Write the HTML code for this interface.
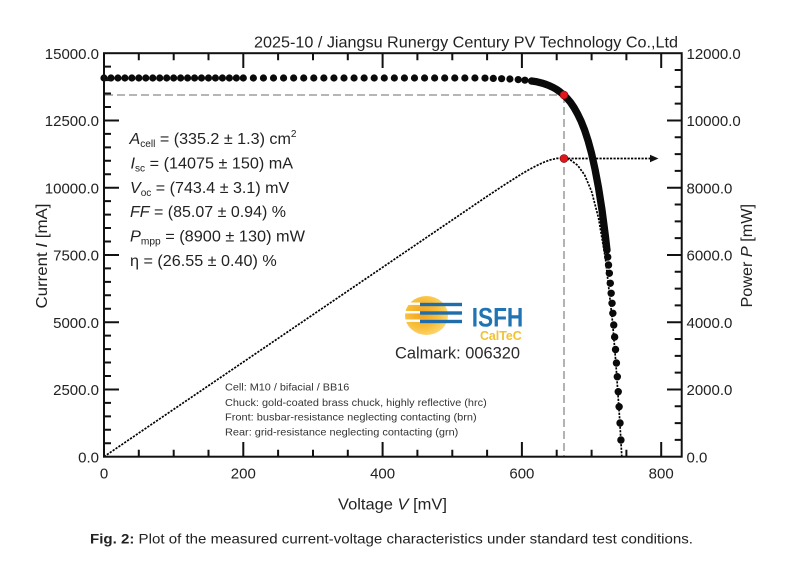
<!DOCTYPE html>
<html>
<head>
<meta charset="utf-8">
<style>
  html, body { margin: 0; padding: 0; background: #ffffff; }
  svg { display: block; font-family: "Liberation Sans", "DejaVu Sans", sans-serif; }
</style>
</head>
<body>
<svg width="800" height="575" viewBox="0 0 800 575" xmlns="http://www.w3.org/2000/svg">
  <defs>
    <radialGradient id="sun" cx="40%" cy="45%" r="60%">
      <stop offset="0" stop-color="#f4a21f"/>
      <stop offset="0.6" stop-color="#f8be3a"/>
      <stop offset="1" stop-color="#fcd76e"/>
    </radialGradient>
  </defs>
  <rect x="0" y="0" width="800" height="575" fill="#ffffff"/>

  <!-- Title -->
  <text x="254" y="47.3" font-size="16" fill="#222" textLength="424" lengthAdjust="spacingAndGlyphs">2025-10 / Jiangsu Runergy Century PV Technology Co.,Ltd</text>

  <!-- dashed guides -->
  <g stroke="#8a8a8a" stroke-width="1.3" stroke-dasharray="8 4" fill="none">
    <line x1="105" y1="95" x2="564" y2="95"/>
    <line x1="564" y1="95" x2="564" y2="456"/>
  </g>

  <!-- Power curve (dotted) -->
  <polyline fill="none" stroke="#000" stroke-width="1.7" stroke-dasharray="2.2 1.3"
    points="104,456.7 487.1,196.3 504.5,184.8 521.9,173.8 528.9,169.7 535.8,166.0 542.8,162.7 549.8,160.0 556.7,158.4 563.7,158.2 570.7,160.2 577.6,165.3 584.6,174.9 591.6,191.5 598.5,217.9 605.5,258.9 612.5,321.4 615.9,363.6 619.4,415.2 620.8,438.9 621.8,456.7"/>

  <!-- arrow -->
  <line x1="568" y1="158.5" x2="651" y2="158.5" stroke="#000" stroke-width="1.7" stroke-dasharray="2.2 1.3"/>
  <polygon points="650,154.8 658.5,158.5 650,162.2" fill="#111"/>

  <!-- IV curve dots -->
  <g fill="#0a0a0a">
    <circle cx="104" cy="78" r="3.6"/><circle cx="110.97" cy="78" r="3.6"/><circle cx="117.93" cy="78" r="3.6"/><circle cx="124.9" cy="78" r="3.6"/><circle cx="131.86" cy="78" r="3.6"/><circle cx="138.83" cy="78" r="3.6"/><circle cx="145.79" cy="78" r="3.6"/><circle cx="152.76" cy="78" r="3.6"/><circle cx="159.72" cy="78" r="3.6"/><circle cx="166.69" cy="78" r="3.6"/><circle cx="173.65" cy="78" r="3.6"/><circle cx="180.62" cy="78" r="3.6"/><circle cx="187.58" cy="78" r="3.6"/><circle cx="194.55" cy="78" r="3.6"/><circle cx="201.51" cy="78" r="3.6"/><circle cx="208.48" cy="78" r="3.6"/><circle cx="215.44" cy="78" r="3.6"/><circle cx="222.41" cy="78" r="3.6"/><circle cx="229.37" cy="78" r="3.6"/><circle cx="236.34" cy="78" r="3.6"/><circle cx="243.3" cy="78" r="3.6"/>
    <circle cx="253.37" cy="78" r="3.6"/><circle cx="263.44" cy="78" r="3.6"/><circle cx="273.51" cy="78" r="3.6"/><circle cx="283.58" cy="78" r="3.6"/><circle cx="293.65" cy="78" r="3.6"/><circle cx="303.72" cy="78" r="3.6"/><circle cx="313.79" cy="78" r="3.6"/><circle cx="323.86" cy="78" r="3.6"/><circle cx="333.93" cy="78" r="3.6"/><circle cx="344" cy="78" r="3.6"/><circle cx="354.07" cy="78" r="3.6"/><circle cx="364.14" cy="78" r="3.6"/><circle cx="374.21" cy="78" r="3.6"/><circle cx="384.28" cy="78" r="3.6"/><circle cx="394.35" cy="78" r="3.6"/><circle cx="404.42" cy="78" r="3.6"/><circle cx="414.49" cy="78" r="3.6"/><circle cx="424.56" cy="78" r="3.6"/><circle cx="434.63" cy="78" r="3.6"/><circle cx="444.7" cy="78" r="3.6"/><circle cx="454.77" cy="78" r="3.6"/><circle cx="464.84" cy="78" r="3.6"/><circle cx="474.91" cy="78" r="3.6"/><circle cx="484.98" cy="78.1" r="3.6"/>
    <circle cx="493.3" cy="78.4" r="3.6"/><circle cx="501.6" cy="78.7" r="3.6"/><circle cx="509.9" cy="79.0" r="3.6"/><circle cx="518.2" cy="79.6" r="3.6"/><circle cx="524.9" cy="80.2" r="3.6"/><circle cx="531.6" cy="81.0" r="3.6"/>
    <!-- steep region -->
    <circle cx="606.96" cy="250" r="3.7"/><circle cx="607.71" cy="257" r="3.7"/><circle cx="608.53" cy="265" r="3.7"/><circle cx="609.34" cy="273.3" r="3.7"/><circle cx="610.28" cy="283.3" r="3.7"/><circle cx="611.17" cy="293.3" r="3.7"/><circle cx="612.03" cy="303.3" r="3.7"/><circle cx="612.84" cy="313.3" r="3.7"/><circle cx="613.75" cy="325" r="3.7"/><circle cx="614.64" cy="337" r="3.7"/><circle cx="615.53" cy="349.5" r="3.7"/><circle cx="616.44" cy="363" r="3.7"/><circle cx="617.32" cy="376.7" r="3.7"/><circle cx="618.24" cy="391.7" r="3.7"/><circle cx="619.12" cy="406.7" r="3.7"/><circle cx="620.03" cy="423" r="3.7"/><circle cx="620.93" cy="440" r="3.7"/>
  </g>
  <polyline fill="none" stroke="#0a0a0a" stroke-width="7.3" stroke-linecap="round" stroke-linejoin="round"
    points="531.6,81.0 535.8,81.6 542.8,83.3 546.3,84.5 549.8,85.9 553.2,87.5 556.7,89.5 560.2,92.0 563.7,94.9 567.2,98.4 570.7,102.6 574.1,107.7 577.6,113.9 581.1,121.2 584.6,130.0 588.1,140.7 591.6,153.6 595.0,169.1 598.5,187.6 602.0,210.0 605.5,237.0 606.96,250"/>

  <!-- MPP red dots -->
  <circle cx="564" cy="95" r="4" fill="#e0161c" stroke="#7a0000" stroke-width="0.6"/>
  <circle cx="564" cy="158.5" r="4" fill="#e0161c" stroke="#7a0000" stroke-width="0.6"/>

  <!-- Axes frame -->
  <rect x="104" y="53.2" width="577.7" height="403.5" fill="none" stroke="#111" stroke-width="2"/>

  <!-- Ticks -->
  <g stroke="#111" stroke-width="2" fill="none">
    <path d="M138.8,456.7V449.7 M173.7,456.7V449.7 M208.5,456.7V449.7 M243.3,456.7V442 M278.1,456.7V449.7 M313,456.7V449.7 M347.8,456.7V449.7 M382.6,456.7V442 M417.4,456.7V449.7 M452.3,456.7V449.7 M487.1,456.7V449.7 M521.9,456.7V442 M556.7,456.7V449.7 M591.6,456.7V449.7 M626.4,456.7V449.7 M661.2,456.7V442"/>
    <path d="M138.8,53.2V60.2 M173.7,53.2V60.2 M208.5,53.2V60.2 M243.3,53.2V68 M278.1,53.2V60.2 M313,53.2V60.2 M347.8,53.2V60.2 M382.6,53.2V68 M417.4,53.2V60.2 M452.3,53.2V60.2 M487.1,53.2V60.2 M521.9,53.2V68 M556.7,53.2V60.2 M591.6,53.2V60.2 M626.4,53.2V60.2 M661.2,53.2V68"/>
    <path d="M104,443.25H111 M104,429.8H111 M104,416.35H111 M104,402.9H111 M104,389.45H119 M104,376H111 M104,362.55H111 M104,349.1H111 M104,335.65H111 M104,322.2H119 M104,308.75H111 M104,295.3H111 M104,281.85H111 M104,268.4H111 M104,254.95H119 M104,241.5H111 M104,228.05H111 M104,214.6H111 M104,201.15H111 M104,187.7H119 M104,174.25H111 M104,160.8H111 M104,147.35H111 M104,133.9H111 M104,120.45H119 M104,107H111 M104,93.55H111 M104,80.1H111 M104,66.65H111"/>
    <path d="M681.7,439.89H674.7 M681.7,423.08H674.7 M681.7,406.26H674.7 M681.7,389.45H667 M681.7,372.64H674.7 M681.7,355.83H674.7 M681.7,339.01H674.7 M681.7,322.2H667 M681.7,305.39H674.7 M681.7,288.58H674.7 M681.7,271.76H674.7 M681.7,254.95H667 M681.7,238.14H674.7 M681.7,221.33H674.7 M681.7,204.51H674.7 M681.7,187.7H667 M681.7,170.89H674.7 M681.7,154.08H674.7 M681.7,137.26H674.7 M681.7,120.45H667 M681.7,103.64H674.7 M681.7,86.83H674.7 M681.7,70.01H674.7"/>
  </g>

  <!-- Left tick labels -->
  <g font-size="15" fill="#222" text-anchor="end">
    <text x="99" y="59">15000.0</text>
    <text x="99" y="126">12500.0</text>
    <text x="99" y="193.3">10000.0</text>
    <text x="99" y="260.5">7500.0</text>
    <text x="99" y="327.8">5000.0</text>
    <text x="99" y="395">2500.0</text>
    <text x="99" y="462.3">0.0</text>
  </g>
  <!-- Right tick labels -->
  <g font-size="15" fill="#222" text-anchor="start">
    <text x="686.5" y="59">12000.0</text>
    <text x="686.5" y="126">10000.0</text>
    <text x="686.5" y="193.3">8000.0</text>
    <text x="686.5" y="260.5">6000.0</text>
    <text x="686.5" y="327.8">4000.0</text>
    <text x="686.5" y="395">2000.0</text>
    <text x="686.5" y="462.3">0.0</text>
  </g>
  <!-- X tick labels -->
  <g font-size="15" fill="#222" text-anchor="middle">
    <text x="104" y="478.5">0</text>
    <text x="243.3" y="478.5">200</text>
    <text x="382.6" y="478.5">400</text>
    <text x="521.9" y="478.5">600</text>
    <text x="661.2" y="478.5">800</text>
  </g>

  <!-- Axis titles -->
  <text x="338" y="509.5" font-size="16" fill="#222" textLength="109" lengthAdjust="spacingAndGlyphs">Voltage <tspan font-style="italic">V</tspan> [mV]</text>
  <text transform="translate(47,308.5) rotate(-90)" x="0" y="0" font-size="16" fill="#222" textLength="105" lengthAdjust="spacingAndGlyphs">Current <tspan font-style="italic">I</tspan> [mA]</text>
  <text transform="translate(752,307.5) rotate(-90)" x="0" y="0" font-size="16" fill="#222" textLength="103.5" lengthAdjust="spacingAndGlyphs">Power <tspan font-style="italic">P</tspan> [mW]</text>

  <!-- Parameter annotations -->
  <g font-size="16" fill="#222">
    <text x="129.5" y="144" textLength="167" lengthAdjust="spacingAndGlyphs"><tspan font-style="italic">A</tspan><tspan font-size="10" dy="3">cell</tspan><tspan dy="-3"> = (335.2 ± 1.3) cm</tspan><tspan font-size="10" dy="-7">2</tspan></text>
    <text x="130.5" y="168.4" textLength="162.6" lengthAdjust="spacingAndGlyphs"><tspan font-style="italic">I</tspan><tspan font-size="10" dy="3">sc</tspan><tspan dy="-3"> = (14075 ± 150) mA</tspan></text>
    <text x="130" y="192.8" textLength="159.3" lengthAdjust="spacingAndGlyphs"><tspan font-style="italic">V</tspan><tspan font-size="10" dy="3">oc</tspan><tspan dy="-3"> = (743.4 ± 3.1) mV</tspan></text>
    <text x="130" y="217.2" textLength="156" lengthAdjust="spacingAndGlyphs"><tspan font-style="italic">FF</tspan> = (85.07 ± 0.94) %</text>
    <text x="130" y="241.6" textLength="175" lengthAdjust="spacingAndGlyphs"><tspan font-style="italic">P</tspan><tspan font-size="10" dy="3">mpp</tspan><tspan dy="-3"> = (8900 ± 130) mW</tspan></text>
    <text x="130" y="266" textLength="146.7" lengthAdjust="spacingAndGlyphs">η = (26.55 ± 0.40) %</text>
  </g>

  <!-- Logo -->
  <g>
    <ellipse cx="426.5" cy="315.5" rx="21.5" ry="19.5" fill="url(#sun)"/>
    <rect x="400" y="302.5" width="20" height="2.4" fill="#ffffff"/>
    <rect x="400" y="311" width="20" height="2.4" fill="#ffffff"/>
    <rect x="400" y="319.5" width="20" height="2.4" fill="#ffffff"/>
    <rect x="420" y="302.8" width="42" height="3.4" fill="#1f6eab"/>
    <rect x="420" y="311.3" width="42" height="3.4" fill="#1f6eab"/>
    <rect x="420" y="319.8" width="42" height="3.4" fill="#1f6eab"/>
    <text x="471.7" y="326.7" font-size="27" font-weight="bold" fill="#2074b3" textLength="51.6" lengthAdjust="spacingAndGlyphs">ISFH</text>
    <text x="480" y="340" font-size="13" font-weight="bold" fill="#f1c232" textLength="41.7" lengthAdjust="spacingAndGlyphs">CalTeC</text>
    <text x="395" y="358.5" font-size="17" fill="#2a2a2a" textLength="125" lengthAdjust="spacingAndGlyphs">Calmark: 006320</text>
  </g>

  <!-- Notes -->
  <g font-size="10.5" fill="#333">
    <text x="225" y="390.7" textLength="124.3" lengthAdjust="spacingAndGlyphs">Cell: M10 / bifacial / BB16</text>
    <text x="225" y="406" textLength="261.7" lengthAdjust="spacingAndGlyphs">Chuck: gold-coated brass chuck, highly reflective (hrc)</text>
    <text x="225" y="420.7" textLength="251.7" lengthAdjust="spacingAndGlyphs">Front: busbar-resistance neglecting contacting (brn)</text>
    <text x="225" y="435.3" textLength="233.3" lengthAdjust="spacingAndGlyphs">Rear: grid-resistance neglecting contacting (grn)</text>
  </g>

  <!-- Caption -->
  <text x="90" y="543.5" font-size="14" fill="#222" textLength="603" lengthAdjust="spacingAndGlyphs"><tspan font-weight="bold">Fig. 2:</tspan> Plot of the measured current-voltage characteristics under standard test conditions.</text>
</svg>
</body>
</html>
